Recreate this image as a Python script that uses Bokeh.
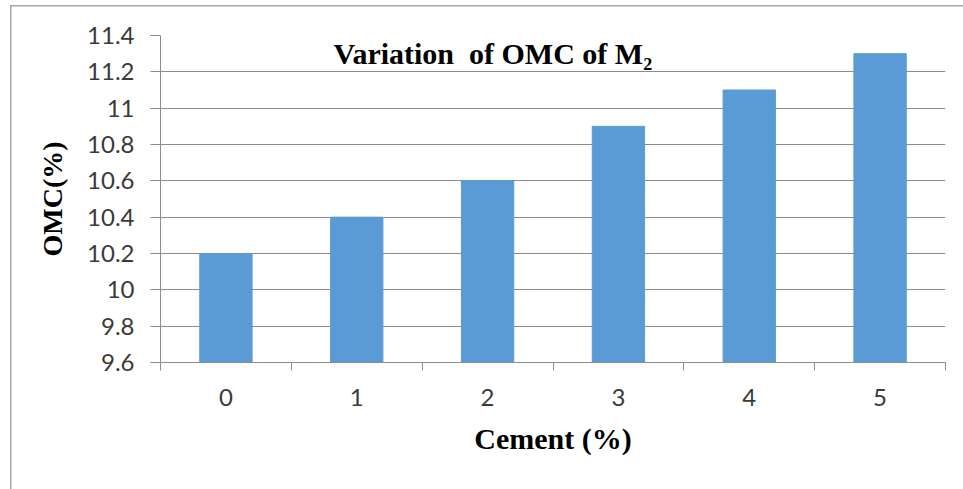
from bokeh.plotting import figure
from bokeh.models import FixedTicker, Range1d, Label
from bokeh.embed import file_html
from bokeh.resources import INLINE

# ---- data ----
cement = [0, 1, 2, 3, 4, 5]
x_labels = ["0", "1", "2", "3", "4", "5"]
omc = [10.2, 10.4, 10.6, 10.9, 11.1, 11.3]
y_ticks = [9.6, 9.8, 10.0, 10.2, 10.4, 10.6, 10.8, 11.0, 11.2, 11.4]
y_labels = ["9.6", "9.8", "10", "10.2", "10.4", "10.6", "10.8", "11", "11.2", "11.4"]
title_text = "Variation\u00a0 of OMC of M\u2082"
x_title = "Cement (%)"
y_title = "OMC(%)"

bounds = [c - 0.5 for c in cement] + [cement[-1] + 0.5]

GRID = "#8c8c8c"
TICKFONT = "Lato"
SERIF = "Liberation Serif"

p = figure(width=963, height=489, output_backend="svg", toolbar_location=None,
           x_range=Range1d(bounds[0], bounds[-1]), y_range=Range1d(y_ticks[0], y_ticks[-1]),
           min_border_left=160, min_border_right=18, min_border_top=35, min_border_bottom=127)
p.outline_line_color = None
p.background_fill_color = None
p.border_fill_color = None
p.styles = {
    "background": "linear-gradient(#a6a6a6, #a6a6a6) 10px 5px / 1.5px 100% no-repeat, "
                  "linear-gradient(#a6a6a6, #a6a6a6) 10px 5px / 100% 1.5px no-repeat, white"
}

p.vbar(x=cement, top=omc, bottom=y_ticks[0], width=0.4,
       fill_color="#5b9bd5", line_color="#5b9bd5")

# x axis
xt = FixedTicker(ticks=cement, minor_ticks=bounds)
p.xaxis.ticker = xt
p.xaxis.major_label_overrides = {c: l for c, l in zip(cement, x_labels)}
p.xaxis.major_tick_line_color = None
p.xaxis.minor_tick_in = 0
p.xaxis.minor_tick_out = 8
p.xaxis.minor_tick_line_color = GRID
p.xaxis.axis_line_color = GRID
p.xaxis.major_label_text_font = TICKFONT
p.xaxis.major_label_text_font_size = "24px"
p.xaxis.major_label_text_color = "#3a3a3a"
p.xaxis.major_label_standoff = 18
p.xaxis.axis_label = x_title
p.xaxis.axis_label_text_font = SERIF
p.xaxis.axis_label_text_font_style = "bold"
p.xaxis.axis_label_text_font_size = "30px"
p.xaxis.axis_label_text_color = "black"
p.xaxis.axis_label_standoff = 13
p.xgrid.grid_line_color = None

# y axis
yt = FixedTicker(ticks=y_ticks, minor_ticks=[])
p.yaxis.ticker = yt
p.ygrid.ticker = yt
p.yaxis.major_label_overrides = {t: l for t, l in zip(y_ticks, y_labels)}
p.yaxis.major_tick_in = 0
p.yaxis.major_tick_out = 10
p.yaxis.major_tick_line_color = GRID
p.yaxis.minor_tick_line_color = None
p.yaxis.axis_line_color = GRID
p.yaxis.major_label_text_font = TICKFONT
p.yaxis.major_label_text_font_size = "24px"
p.yaxis.major_label_text_color = "#3a3a3a"
p.yaxis.major_label_standoff = 16
p.yaxis.axis_label = y_title
p.yaxis.axis_label_text_font = SERIF
p.yaxis.axis_label_text_font_style = "bold"
p.yaxis.axis_label_text_font_size = "28px"
p.yaxis.axis_label_text_color = "black"
p.yaxis.axis_label_standoff = 16
p.ygrid.grid_line_color = GRID
p.ygrid.grid_line_width = 1

p.add_layout(Label(x=2.04, y=11.30, text=title_text, text_align="center",
                   text_baseline="alphabetic", text_font=SERIF, text_font_style="bold",
                   text_font_size="30px", text_color="black"))

open("out.html", "w").write(file_html(p, INLINE))
